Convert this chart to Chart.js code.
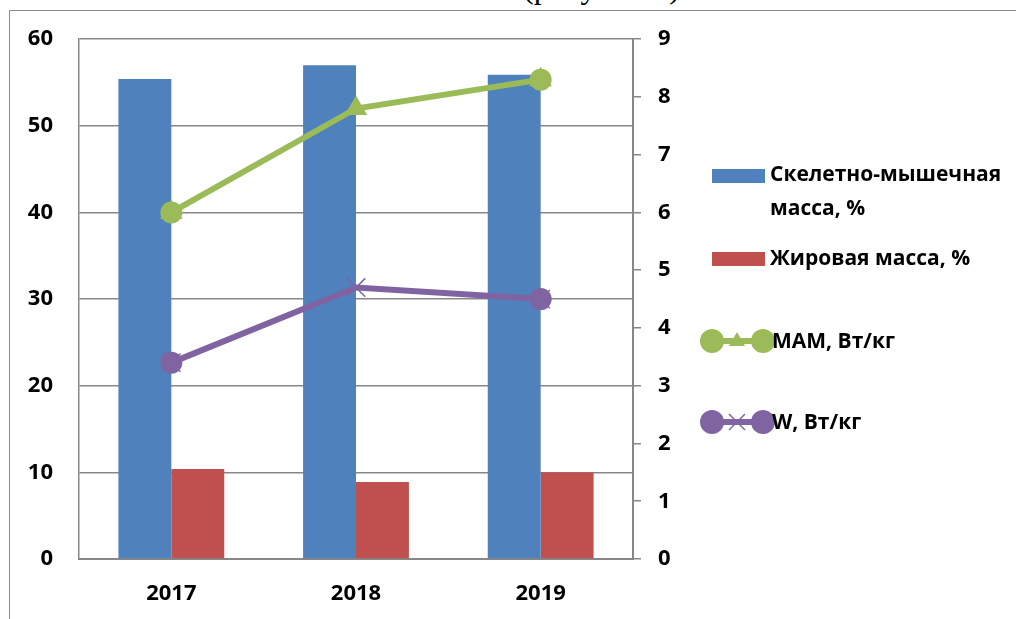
<!DOCTYPE html>
<html>
<head>
<meta charset="utf-8">
<script src="https://cdn.jsdelivr.net/npm/chart.js@4.4.1/dist/chart.umd.min.js"></script>
<style>
    html, body { margin: 0; padding: 0; background: #fff; overflow: hidden; }
    #wrap { position: relative; width: 1016px; height: 619px; }
    #frame { position: absolute; left: 9px; top: 10px; right: -2px; bottom: -2px; border-top: 1px solid #8a8a8a; border-left: 1px solid #8a8a8a; }
    #caption { position: absolute; left: 523px; top: -29px; font-family: 'Liberation Serif', serif; font-size: 32px; line-height: 32px; white-space: nowrap; color: #000; }
    canvas { position: absolute; left: 0; top: 0; }
</style>
</head>
<body>
<div id="wrap">
    <div id="caption">(рисунок 1)</div>
    <div id="frame"></div>
    <canvas id="chart" width="1016" height="619"></canvas>
</div>
<script>
const years = ['2017', '2018', '2019'];
const skeletalMass = [55.4, 57.0, 55.9];
const fatMass = [10.4, 8.9, 10.0];
const mam = [6.0, 7.8, 8.3];
const wPower = [3.4, 4.7, 4.5];
const leftTicks = [0, 10, 20, 30, 40, 50, 60];
const rightTicks = [0, 1, 2, 3, 4, 5, 6, 7, 8, 9];

const BLUE = '#4F81BD';
const RED = '#C0504D';
const GREEN = '#9BBB59';
const PURPLE = '#8064A2';
const GRID = '#878787';
const FONT = "'Open Sans', sans-serif";

// circle markers only on the first and last point, like the original
const endDots = [11, 0, 11];

const legendPlugin = {
    id: 'sideLegend',
    afterDraw: function (chart) {
        const ctx = chart.ctx;
        ctx.save();
        ctx.font = 'bold 21px ' + FONT;
        ctx.textBaseline = 'middle';
        ctx.textAlign = 'left';

        ctx.fillStyle = BLUE;
        ctx.fillRect(712, 169, 53, 14);
        ctx.fillStyle = '#000';
        ctx.fillText('Скелетно-мышечная', 770, 175);
        ctx.fillText('масса, %', 770, 209);

        ctx.fillStyle = RED;
        ctx.fillRect(712, 252, 53, 14);
        ctx.fillStyle = '#000';
        ctx.fillText('Жировая масса, %', 770, 259);

        function lineIcon(y, color, mid) {
            ctx.strokeStyle = color;
            ctx.fillStyle = color;
            ctx.lineWidth = 6;
            ctx.beginPath();
            ctx.moveTo(712, y);
            ctx.lineTo(763, y);
            ctx.stroke();
            [712, 763].forEach(function (x) {
                ctx.beginPath();
                ctx.arc(x, y, 12, 0, Math.PI * 2);
                ctx.fill();
            });
            mid(737, y);
        }

        lineIcon(341, GREEN, function (x, y) {
            ctx.beginPath();
            ctx.moveTo(x, y - 9);
            ctx.lineTo(x + 8, y + 5);
            ctx.lineTo(x - 8, y + 5);
            ctx.closePath();
            ctx.fill();
        });
        lineIcon(422, PURPLE, function (x, y) {
            ctx.lineWidth = 1.5;
            ctx.beginPath();
            ctx.moveTo(x - 8, y - 8);
            ctx.lineTo(x + 8, y + 8);
            ctx.moveTo(x + 8, y - 8);
            ctx.lineTo(x - 8, y + 8);
            ctx.stroke();
        });

        ctx.fillStyle = '#000';
        ctx.fillText('МАМ, Вт/кг', 772, 342);
        ctx.fillText('W, Вт/кг', 772, 423);
        ctx.restore();
    }
};

new Chart(document.getElementById('chart').getContext('2d'), {
    type: 'bar',
    data: {
        labels: years,
        datasets: [
            {
                type: 'line', label: 'МАМ dots', data: mam, yAxisID: 'y2', order: 0,
                showLine: false, pointStyle: 'circle', pointRadius: endDots,
                pointBackgroundColor: GREEN, pointBorderWidth: 0, borderColor: GREEN
            },
            {
                type: 'line', label: 'МАМ, Вт/кг', data: mam, yAxisID: 'y2', order: 1,
                borderColor: GREEN, borderWidth: 6, tension: 0,
                pointStyle: 'triangle', pointRadius: 13, pointBackgroundColor: GREEN,
                pointBorderColor: GREEN, pointBorderWidth: 0
            },
            {
                type: 'line', label: 'W dots', data: wPower, yAxisID: 'y2', order: 2,
                showLine: false, pointStyle: 'circle', pointRadius: endDots,
                pointBackgroundColor: PURPLE, pointBorderWidth: 0, borderColor: PURPLE
            },
            {
                type: 'line', label: 'W, Вт/кг', data: wPower, yAxisID: 'y2', order: 3,
                borderColor: PURPLE, borderWidth: 6, tension: 0,
                pointStyle: 'crossRot', pointRadius: 13, pointBorderColor: PURPLE,
                pointBorderWidth: 1.5
            },
            {
                label: 'Скелетно-мышечная масса, %', data: skeletalMass, yAxisID: 'y', order: 10,
                backgroundColor: BLUE, categoryPercentage: 0.573, barPercentage: 1
            },
            {
                label: 'Жировая масса, %', data: fatMass, yAxisID: 'y', order: 11,
                backgroundColor: RED, categoryPercentage: 0.573, barPercentage: 1
            }
        ]
    },
    options: {
        responsive: false,
        animation: false,
        layout: { padding: { left: 0, top: 38, right: 323, bottom: 0 } },
        plugins: { legend: { display: false }, tooltip: { enabled: false } },
        scales: {
            x: {
                grid: { display: false },
                border: { display: true, color: GRID, width: 2 },
                ticks: { color: '#000', padding: 14, font: { family: FONT, size: 22, weight: 'bold' } },
                afterFit: function (s) { s.height = 60; }
            },
            y: {
                position: 'left', min: 0, max: 60,
                afterBuildTicks: function (s) { s.ticks = leftTicks.map(function (v) { return { value: v }; }); },
                grid: { color: GRID, lineWidth: 1.5, drawTicks: false },
                border: { display: true, color: GRID, width: 1.5 },
                ticks: { color: '#000', padding: 26, font: { family: FONT, size: 22, weight: 'bold' } },
                afterFit: function (s) { s.width = 79; }
            },
            y2: {
                position: 'right', min: 0, max: 9,
                afterBuildTicks: function (s) { s.ticks = rightTicks.map(function (v) { return { value: v }; }); },
                grid: { drawOnChartArea: false, drawTicks: true, tickLength: 8, color: GRID, lineWidth: 1.5 },
                border: { display: true, color: GRID, width: 2 },
                ticks: { color: '#000', padding: 17, font: { family: FONT, size: 22, weight: 'bold' } },
                afterFit: function (s) { s.width = 60; }
            }
        }
    },
    plugins: [legendPlugin]
});
</script>
</body>
</html>
